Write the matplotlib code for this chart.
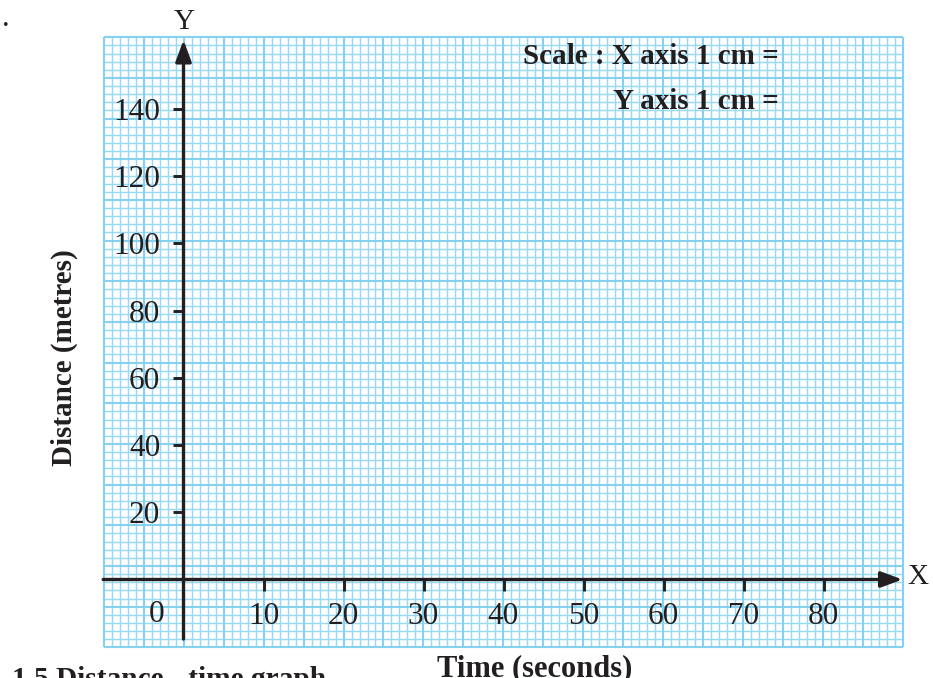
import numpy as np
import matplotlib
matplotlib.use("Agg")
import matplotlib.pyplot as plt

# ---- data / labels ----
x_ticks = [10, 20, 30, 40, 50, 60, 70, 80]
y_ticks = [20, 40, 60, 80, 100, 120, 140]
x_label = "Time (seconds)"
y_label = "Distance (metres)"
caption = "1.5 Distance - time graph"
scale_line1 = "Scale : X axis 1 cm ="
scale_line2 = "Y axis 1 cm ="

plt.rcParams['font.family'] = ['Liberation Serif', 'DejaVu Serif']
INK = '#231f20'

W, H = 933, 678
fig = plt.figure(figsize=(W / 100, H / 100), dpi=100)

# graph-paper area in pixels
L, R, T, B = 104.0, 902.5, 37.3, 647.3
pos = [L / W, 1 - B / H, (R - L) / W, (B - T) / H]

# ---- graph paper ----
gax = fig.add_axes(pos, zorder=0)
gax.set_xlim(0, 100)
gax.set_ylim(0, 75)
gax.axis('off')
minor_c = '#98d9f4'
major_c = '#86d0f0'
xs = np.arange(0, 101)
ys = np.arange(0, 76)
gax.vlines(xs[xs % 5 != 0], 0, 75, colors=minor_c, lw=1.05, clip_on=False)
gax.hlines(ys[ys % 5 != 0], 0, 100, colors=minor_c, lw=1.05, clip_on=False)
gax.vlines(xs[xs % 5 == 0], 0, 75, colors=major_c, lw=1.5, clip_on=False)
gax.hlines(ys[ys % 5 == 0], 0, 100, colors=major_c, lw=1.5, clip_on=False)

# ---- main axes ----
ax = fig.add_axes(pos, zorder=1)
ax.patch.set_alpha(0)
x0_px, xs_px = 183.5, 8.0
y0_px, ys_px = 579.5, 3.361
ax.set_xlim((L - x0_px) / xs_px, (R - x0_px) / xs_px)
ax.set_ylim(-(B - y0_px) / ys_px, (y0_px - T) / ys_px)

for s in ['top', 'right']:
    ax.spines[s].set_visible(False)
ax.spines['left'].set_position(('data', 0))
ax.spines['bottom'].set_position(('data', 0))
ax.spines['left'].set_color('none')
ax.spines['bottom'].set_color('none')

ax.set_xticks(x_ticks)
ax.set_yticks(y_ticks)
ax.set_xticklabels([str(v) for v in x_ticks])
ax.set_yticklabels([str(v) for v in y_ticks])
ax.tick_params(axis='both', direction='out', length=8.2, width=2.1,
               color=INK, labelcolor=INK, labelsize=22.5)
ax.tick_params(axis='x', pad=8)
ax.tick_params(axis='y', pad=8.5)

xmin, xmax = ax.get_xlim()
ymin, ymax = ax.get_ylim()
arrow = dict(arrowstyle='-|>,head_length=0.65,head_width=0.24',
             mutation_scale=20, lw=2.4, color=INK, shrinkA=0, shrinkB=0)
ax.annotate('', xy=(xmax, 0), xytext=(xmin - 0.1, 0),
            arrowprops=arrow, annotation_clip=False)
ax.annotate('', xy=(0, (y0_px - 40) / ys_px),
            xytext=(0, -(639 - y0_px) / ys_px),
            arrowprops=arrow, annotation_clip=False)

# origin label
ax.text((157 - x0_px) / xs_px, -(615 - y0_px) / ys_px, '0',
        fontsize=22.5, color=INK, ha='center', va='center')

# axis letters
fig.text(184 / W, 1 - 22 / H, 'Y', fontsize=21, color=INK,
         ha='center', va='center')
fig.text(918 / W, 1 - 577 / H, 'X', fontsize=21, color=INK,
         ha='center', va='center')

# scale note
fig.text(779 / W, 1 - 63.5 / H, scale_line1, fontsize=21, fontweight='bold',
         color=INK, ha='right', va='baseline')
fig.text(779 / W, 1 - 109 / H, scale_line2, fontsize=21, fontweight='bold',
         color=INK, ha='right', va='baseline')

# axis titles
fig.text(64 / W, 1 - 358 / H, y_label, fontsize=21, fontweight='bold',
         color=INK, rotation=90, ha='center', va='center')
fig.text(535 / W, 1 - 676 / H, x_label, fontsize=22, fontweight='bold',
         color=INK, ha='center', va='baseline')
fig.text(12 / W, 1 - 687 / H, caption, fontsize=21.2, fontweight='bold',
         color=INK, ha='left', va='baseline')

# stray dot at top left
fig.text(6 / W, 1 - 26 / H, '.', fontsize=22, color=INK,
         ha='center', va='baseline')

fig.savefig('out.png', dpi=100)
